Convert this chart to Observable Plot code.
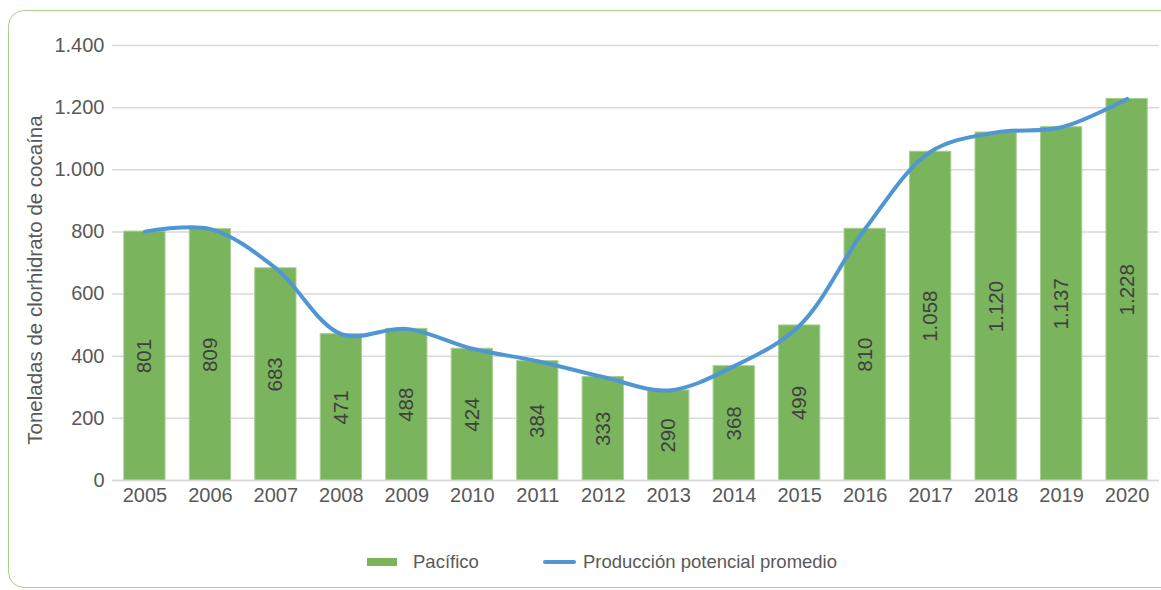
<!DOCTYPE html>
<html>
<head>
<meta charset="utf-8">
<script src="https://cdn.jsdelivr.net/npm/d3@7"></script>
<script src="https://cdn.jsdelivr.net/npm/@observablehq/plot@0.6"></script>
<style>
  html, body { margin: 0; padding: 0; background: #fff; }
  body { width: 1161px; height: 590px; position: relative; overflow: hidden; font-family: "Liberation Sans", Arial, sans-serif; }
  #frame { position: absolute; left: 8px; top: 10px; width: 1180px; height: 578px; border: 1.5px solid #a9d18e; border-radius: 16px; box-sizing: border-box; }
  #chart { position: absolute; left: 0; top: 0; }
  #ytitle { position: absolute; left: 35px; top: 280px; transform: translate(-50%, -50%) rotate(-90deg); white-space: nowrap; font-size: 20.5px; color: #595959; }
  #legend { position: absolute; top: 548px; left: 0; width: 1161px; height: 28px; font-size: 18.5px; color: #595959; }
  .sw-bar { position: absolute; left: 367px; top: 10px; width: 30px; height: 8px; background: #7ab45c; }
  .sw-line { position: absolute; left: 543px; top: 12px; width: 33px; height: 4px; border-radius: 2px; background: #5096d2; }
  .lab { position: absolute; top: 3px; }
</style>
</head>
<body>
<div id="frame"></div>
<div id="chart"></div>
<div id="ytitle">Toneladas de clorhidrato de cocaína</div>
<div id="legend">
  <div class="sw-bar"></div><div class="lab" style="left:413px">Pacífico</div>
  <div class="sw-line"></div><div class="lab" style="left:583px">Producción potencial promedio</div>
</div>
<script>
const years = ["2005","2006","2007","2008","2009","2010","2011","2012","2013","2014","2015","2016","2017","2018","2019","2020"];
const pacifico = [801, 809, 683, 471, 488, 424, 384, 333, 290, 368, 499, 810, 1058, 1120, 1137, 1228];
const promedio = [801, 809, 683, 471, 488, 424, 384, 333, 290, 368, 499, 810, 1058, 1120, 1137, 1228];
const yTicks = [0, 200, 400, 600, 800, 1000, 1200, 1400];

const fmt = d3.formatLocale({decimal: ",", thousands: ".", grouping: [3], currency: ["", ""]}).format(",");
const bars = years.map((y, i) => ({year: y, value: pacifico[i]}));
const line = years.map((y, i) => ({year: y, value: promedio[i]}));

const chart = Plot.plot({
  width: 1161,
  height: 530,
  marginTop: 45,
  marginBottom: 50,
  marginLeft: 112,
  marginRight: 2,
  style: {fontFamily: "'Liberation Sans', Arial, sans-serif", fontSize: "20px", color: "#595959", background: "transparent"},
  x: {domain: years, paddingInner: 0.37, paddingOuter: 0.18, round: false, label: null},
  y: {domain: [0, 1400], label: null},
  marks: [
    Plot.gridY(yTicks, {stroke: "#d9d9d9", strokeOpacity: 1, strokeWidth: 1.5}),
    Plot.axisY(yTicks, {tickSize: 0, tickPadding: 8, tickFormat: fmt, fill: "#595959", fontSize: 20, label: null}),
    Plot.axisX({tickSize: 0, tickPadding: 7, fill: "#595959", fontSize: 20, label: null}),
    Plot.barY(bars, {x: "year", y: "value", fill: "#7ab45c", stroke: "#a6cf8f", strokeWidth: 1}),
    Plot.ruleY([0], {stroke: "#d9d9d9", strokeWidth: 1.5}),
    Plot.text(bars, {x: "year", y: d => d.value / 2, text: d => fmt(d.value), rotate: -90, fill: "#404040", fontSize: 20.5}),
    Plot.line(line, {x: "year", y: "value", stroke: "#5096d2", strokeWidth: 4, curve: "catmull-rom", strokeLinecap: "round"})
  ]
});
document.getElementById("chart").appendChild(chart);
</script>
</body>
</html>
